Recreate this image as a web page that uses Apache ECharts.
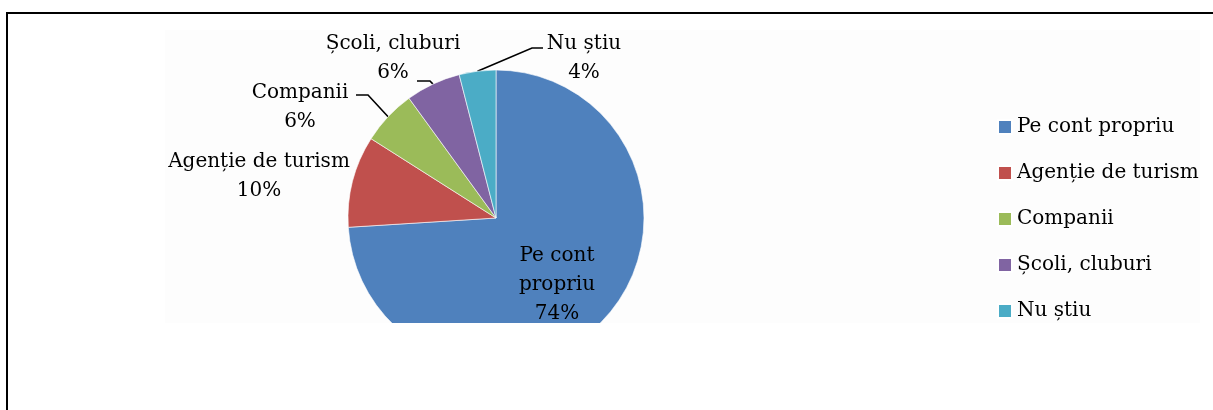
<!DOCTYPE html>
<html>
<head>
<meta charset="utf-8">
<script src="https://cdn.jsdelivr.net/npm/echarts@6/dist/echarts.min.js"></script>
<style>
  html, body { margin: 0; padding: 0; background: #fff; }
  #c { width: 1213px; height: 410px; }
</style>
</head>
<body>
<div id="c"></div>
<script>
// Share of respondents by how they organise their trips (%)
const categories = ['Pe cont propriu', 'Agenție de turism', 'Companii', 'Școli, cluburi', 'Nu știu'];
const shares = [74, 10, 6, 6, 4];
const sliceColors = ['#4F81BD', '#C0504D', '#9BBB59', '#8064A2', '#4BACC6'];
// how each category name is wrapped in its slice label
const labelNames = ['Pe cont\npropriu', 'Agenție de turism', 'Companii', 'Școli, cluburi', 'Nu știu'];

// pie geometry
const CX = 496, CY = 218, R = 148;
// label centres, as offsets from the pie centre
const labelOffsets = [[61, 67], [-237, -42], [-196, -111], [-103, -160], [88, -160]];
// leader lines: [attach dx, attach dy (from label centre), horizontal run]
const leaders = [null, null, [56, -12, 12], [24, 23, 13], [-41, -10, -11]];

const FONT = 'DejaVu Serif';

const chart = echarts.init(document.getElementById('c'), null, { renderer: 'canvas' });

const data = categories.map((name, i) => {
  const item = { name, value: shares[i], itemStyle: { color: sliceColors[i] } };
  if (i === 0) item.label = { position: 'inside' };
  if (!leaders[i]) item.labelLine = { show: false };
  return item;
});

chart.setOption({
  animation: false,
  backgroundColor: '#ffffff',
  legend: {
    orient: 'vertical',
    left: 992,
    top: 112,
    icon: 'rect',
    itemWidth: 14,
    itemHeight: 14,
    itemGap: 26,
    data: categories,
    textStyle: { fontFamily: FONT, fontSize: 20, lineHeight: 20, color: '#000' }
  },
  graphic: [
    {
      type: 'rect', z: 0, silent: true,
      shape: { x: 165, y: 30, width: 1035, height: 293 },
      style: { fill: '#fdfdfd' }
    },
    {
      type: 'rect', z: 100, silent: true,
      shape: { x: 9, y: 323, width: 1204, height: 87 },
      style: { fill: '#ffffff' }
    },
    {
      type: 'polyline', z: 101, silent: true,
      shape: { points: [[7, 410], [7, 13], [1213, 13]] },
      style: { stroke: '#000', lineWidth: 2, fill: null }
    }
  ],
  series: [{
    type: 'pie',
    z: 2,
    center: [CX, CY],
    radius: R,
    startAngle: 90,
    clockwise: true,
    avoidLabelOverlap: false,
    itemStyle: { borderColor: '#ffffff', borderWidth: 0.6 },
    label: {
      show: true,
      position: 'outside',
      fontFamily: FONT,
      fontSize: 20,
      lineHeight: 29,
      color: '#000',
      align: 'center',
      formatter: p => labelNames[p.dataIndex] + '\n' + p.value + '%'
    },
    labelLine: {
      show: true,
      length: 10,
      length2: 10,
      smooth: false,
      lineStyle: { color: '#000', width: 1.6 }
    },
    labelLayout: function (p) {
      const i = p.dataIndex;
      const o = labelOffsets[i];
      const x = CX + o[0], y = CY + o[1];
      const res = { x: x, y: y, align: 'center', verticalAlign: 'middle' };
      const g = leaders[i];
      if (g && p.labelLinePoints && p.labelLinePoints.length) {
        const edge = p.labelLinePoints[0];
        const ax = x + g[0], ay = y + g[1];
        res.labelLinePoints = [[edge[0], edge[1]], [ax + g[2], ay], [ax, ay]];
      }
      return res;
    },
    emphasis: { disabled: true },
    data: data
  }]
});
</script>
</body>
</html>
